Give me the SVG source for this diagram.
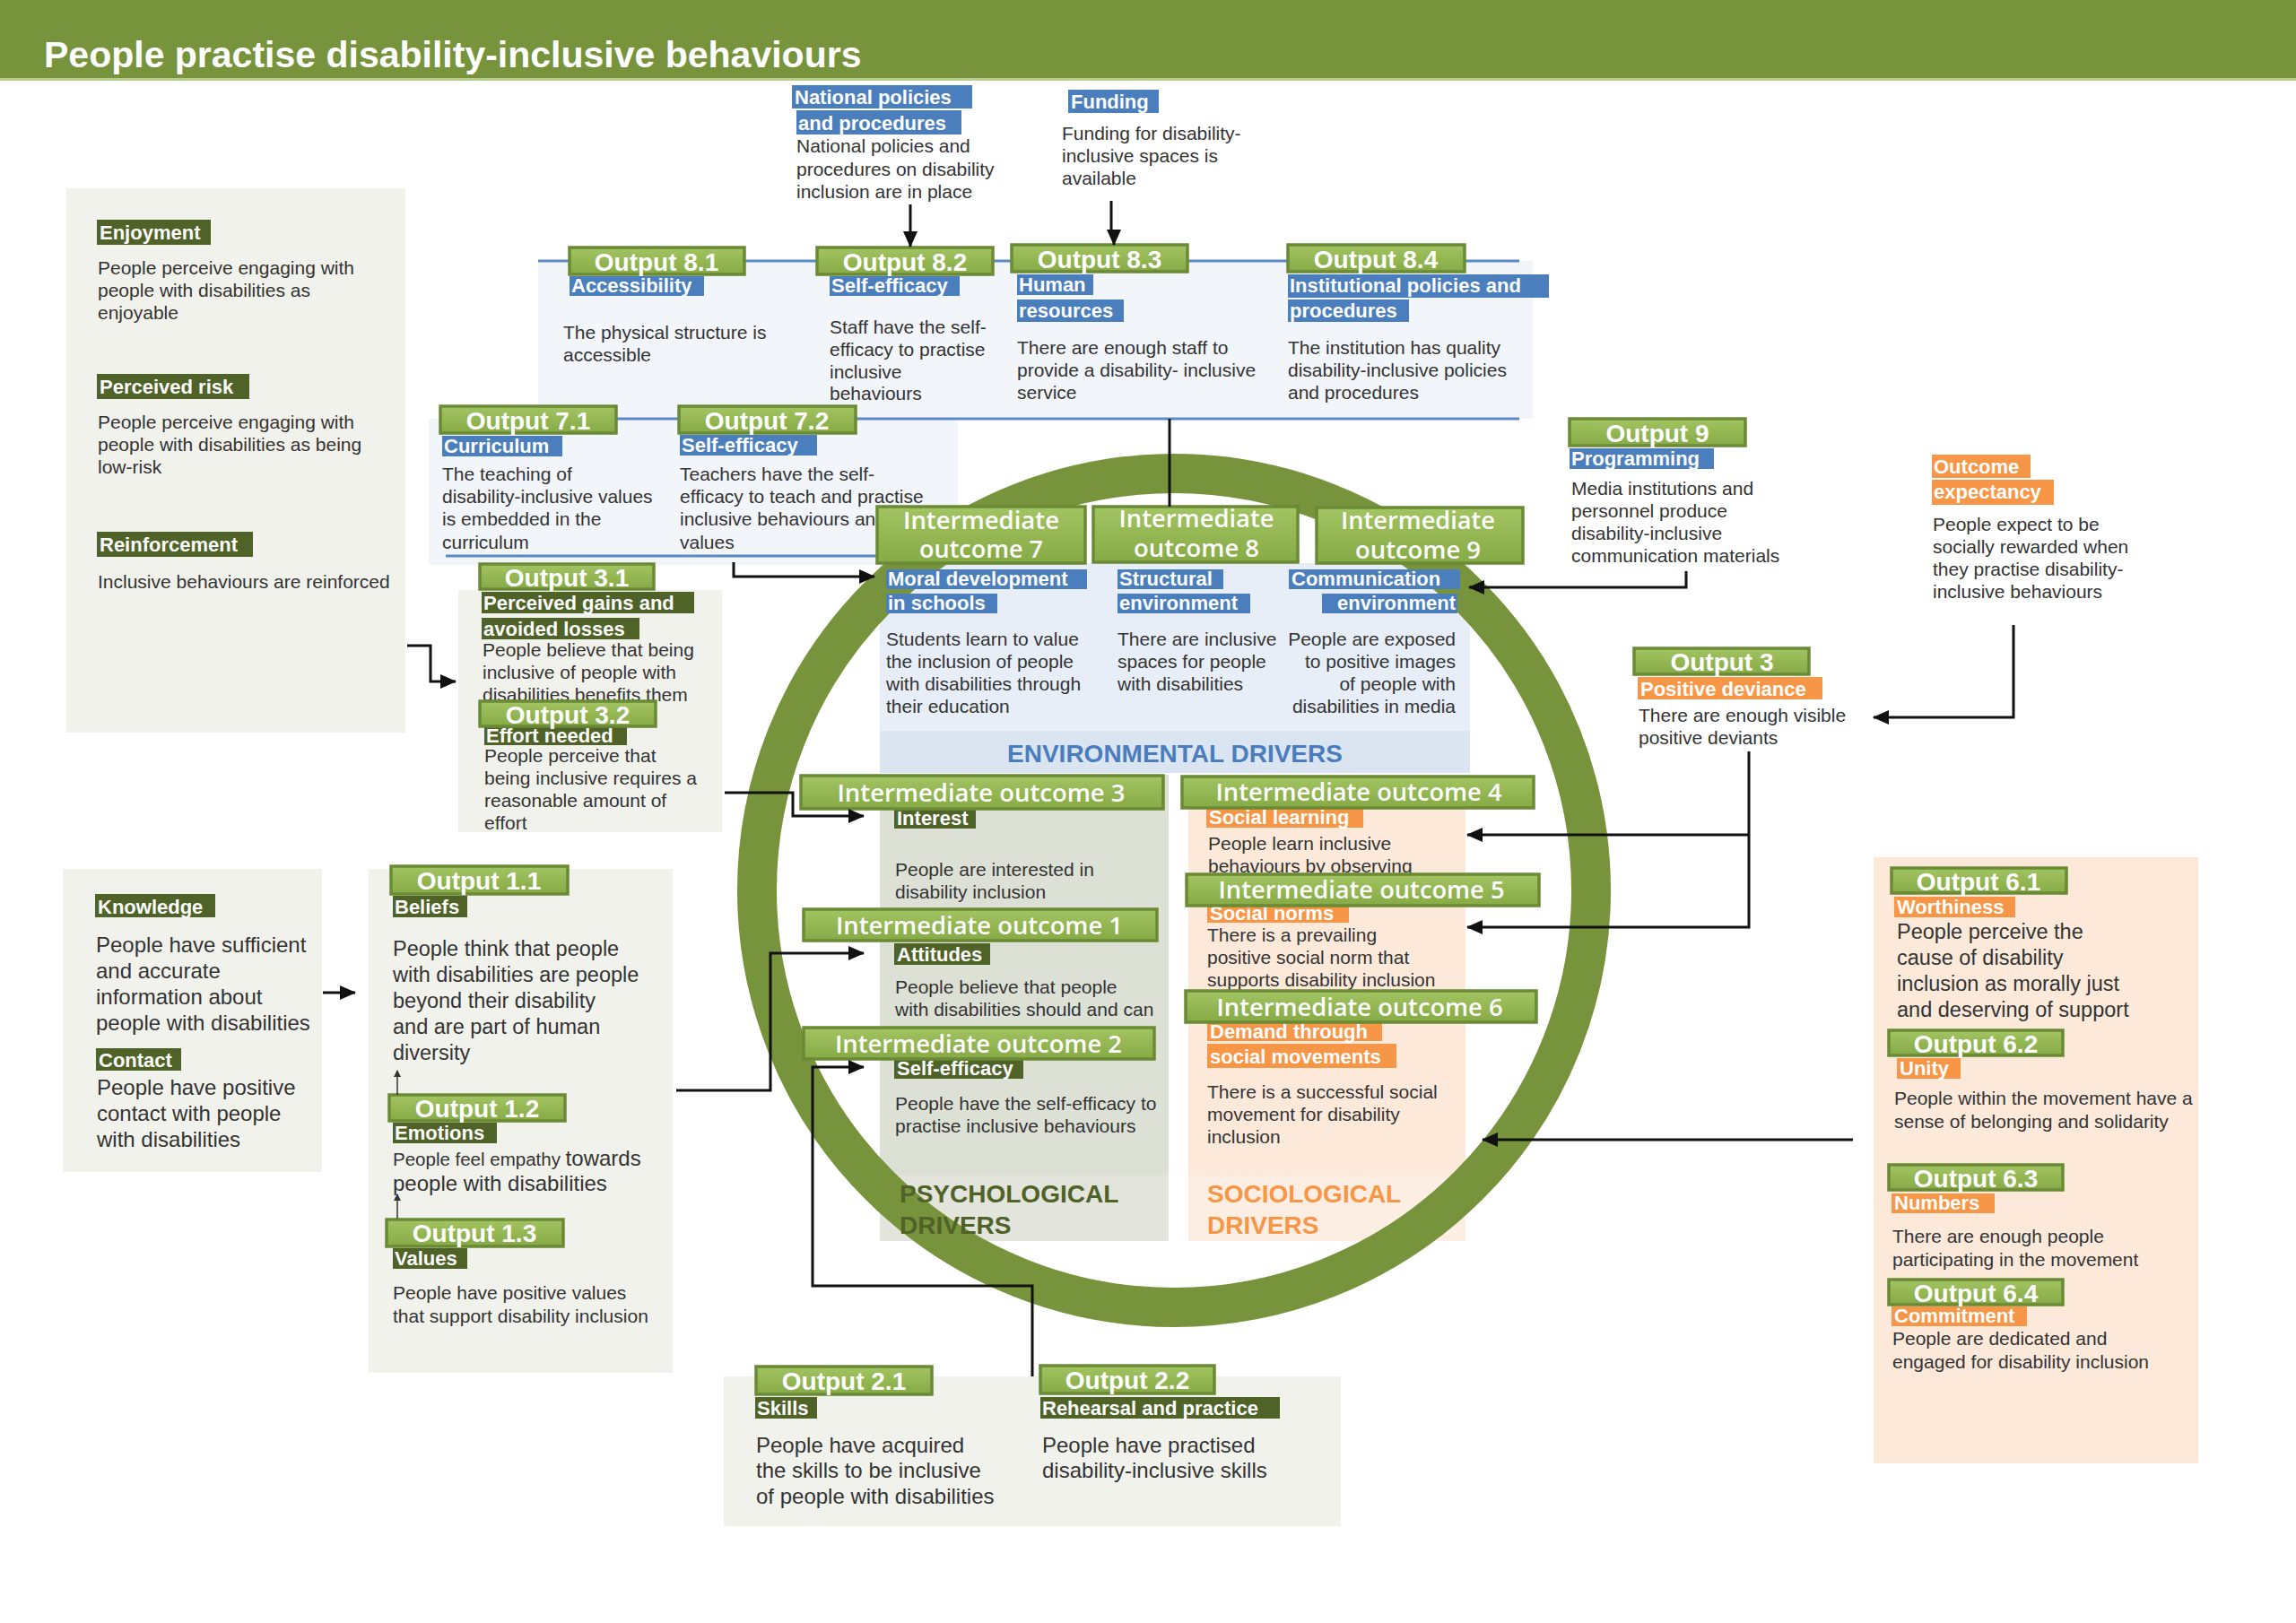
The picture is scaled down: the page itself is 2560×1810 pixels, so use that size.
<svg xmlns="http://www.w3.org/2000/svg" width="2560" height="1810" viewBox="0 0 2560 1810">
<defs>
<linearGradient id="gbox" x1="0" y1="0" x2="0" y2="1">
<stop offset="0" stop-color="#a2c462"/>
<stop offset="1" stop-color="#86aa46"/>
</linearGradient>
<marker id="ah" markerUnits="userSpaceOnUse" markerWidth="18" markerHeight="16" refX="17" refY="8" orient="auto">
<path d="M0,0 L18,8 L0,16 z" fill="#111"/>
</marker>
<marker id="ahs" markerUnits="userSpaceOnUse" markerWidth="8" markerHeight="8" refX="7" refY="4" orient="auto">
<path d="M0,0 L8,4 L0,8 z" fill="#333"/>
</marker>
<style>
.b{font-family:"Liberation Sans",Arial,sans-serif;fill:#333;font-size:21px}
.b24{font-size:24px}
.b23{font-size:23.5px}
.lab{font-family:"Liberation Sans",Arial,sans-serif;font-weight:bold;fill:#fff;font-size:22px}
.lg{fill:#4f6228}
.lb{fill:#4a7ebd}
.lo{fill:#f79646}
.ob{fill:url(#gbox);stroke:#6a8a35;stroke-width:3.5}
.ot{font-family:"Liberation Sans",Arial,sans-serif;font-weight:bold;fill:#fff;font-size:28px;text-anchor:middle}
.iot{font-family:"Open Sans","Noto Sans",sans-serif;font-weight:600;fill:#fff;font-size:27px;text-anchor:middle}
.pg{fill:#f2f2ec}
.pb{fill:#f2f5fa}
.bl{stroke:#5b8ac6;stroke-width:3;fill:none}
.con{stroke:#111;stroke-width:3;fill:none;marker-end:url(#ah)}
.sc{stroke:#333;stroke-width:1.5;fill:none;marker-end:url(#ahs)}
.drv{font-family:"Liberation Sans",Arial,sans-serif;font-weight:bold;font-size:28px}
</style>
</defs>
<rect width="2560" height="1810" fill="#fff"/>

<!-- title -->
<g id="title">
<rect x="0" y="0" width="2560" height="87" fill="#77933c"/>
<rect x="0" y="87" width="2560" height="3" fill="#b8cc8e"/>
<text x="49" y="75" font-family="Liberation Sans, Arial, sans-serif" font-weight="bold" font-size="41" fill="#fff">People practise disability-inclusive behaviours</text>
</g>

<!-- panels -->
<g id="panels">
<rect class="pg" x="74" y="210" width="378" height="607"/>
<rect class="pb" x="600" y="291" width="1109" height="176"/>
<rect class="pb" x="478" y="467" width="590" height="163"/>
<rect class="pg" x="511" y="658" width="294" height="270"/>
<rect class="pg" x="70" y="969" width="289" height="338"/>
<rect class="pg" x="411" y="969" width="339" height="562"/>
<rect class="pg" x="807" y="1535" width="688" height="167"/>
<rect fill="#fce9da" x="2089" y="956" width="362" height="676"/>
<rect fill="#e7eef7" x="981" y="628" width="658" height="187"/>
<rect fill="#dbe5f1" x="981" y="815" width="658" height="47"/>
<rect fill="#dde0d5" x="981" y="864" width="322" height="447"/>
<rect fill="#e3e4dc" x="981" y="1311" width="322" height="73"/>
<rect fill="#fde9d9" x="1325" y="864" width="309" height="447"/>
<rect fill="#fdeee4" x="1325" y="1311" width="309" height="73"/>
<line class="bl" x1="600" y1="291" x2="1694" y2="291"/>
<line class="bl" x1="497" y1="467" x2="1694" y2="467"/>
<line class="bl" x1="497" y1="620" x2="980" y2="620"/>
</g>

<!-- ring -->
<g id="ring">
<circle cx="1309" cy="993" r="465" fill="none" stroke="#77933c" stroke-width="44"/>
</g>

<!-- driver titles -->
<g id="driver-titles">
<text class="drv" x="1310" y="850" text-anchor="middle" fill="#4a7dbd">ENVIRONMENTAL DRIVERS</text>
<text class="drv" x="1003" y="1341" fill="#4f6228">PSYCHOLOGICAL</text>
<text class="drv" x="1003" y="1376" fill="#4f6228">DRIVERS</text>
<text class="drv" x="1346" y="1341" fill="#f79646">SOCIOLOGICAL</text>
<text class="drv" x="1346" y="1376" fill="#f79646">DRIVERS</text>
</g>

<!-- left drivers panel -->
<g id="enjoyment">
<rect class="lg" x="108" y="245" width="127" height="28"/>
<text class="lab" x="111" y="267">Enjoyment</text>
<text class="b" x="109" y="306">People perceive engaging with</text>
<text class="b" x="109" y="331">people with disabilities as</text>
<text class="b" x="109" y="356">enjoyable</text>
</g>
<g id="perceived-risk">
<rect class="lg" x="108" y="417" width="170" height="28"/>
<text class="lab" x="111" y="439">Perceived risk</text>
<text class="b" x="109" y="478">People perceive engaging with</text>
<text class="b" x="109" y="503">people with disabilities as being</text>
<text class="b" x="109" y="528">low-risk</text>
</g>
<g id="reinforcement">
<rect class="lg" x="108" y="593" width="174" height="28"/>
<text class="lab" x="111" y="615">Reinforcement</text>
<text class="b" x="109" y="656">Inclusive behaviours are reinforced</text>
</g>

<!-- top inputs -->
<g id="national-policies">
<rect class="lb" x="883" y="95" width="201" height="26"/>
<text class="lab" x="886" y="116">National policies</text>
<rect class="lb" x="888" y="123" width="184" height="27"/>
<text class="lab" x="890" y="145">and procedures</text>
<text class="b" x="888" y="170">National policies and</text>
<text class="b" x="888" y="196">procedures on disability</text>
<text class="b" x="888" y="221">inclusion are in place</text>
</g>
<g id="funding">
<rect class="lb" x="1191" y="100" width="101" height="26"/>
<text class="lab" x="1194" y="121">Funding</text>
<text class="b" x="1184" y="156">Funding for disability-</text>
<text class="b" x="1184" y="181">inclusive spaces is</text>
<text class="b" x="1184" y="206">available</text>
</g>

<!-- outputs 8 -->
<g id="output-8-1">
<rect class="ob" x="635" y="276" width="195" height="30"/>
<text class="ot" x="732" y="302">Output 8.1</text>
<rect class="lb" x="635" y="308" width="150" height="22"/>
<text class="lab" x="637" y="326">Accessibility</text>
<text class="b" x="628" y="378">The physical structure is</text>
<text class="b" x="628" y="403">accessible</text>
</g>
<g id="output-8-2">
<rect class="ob" x="911" y="276" width="196" height="30"/>
<text class="ot" x="1009" y="302">Output 8.2</text>
<rect class="lb" x="925" y="308" width="145" height="22"/>
<text class="lab" x="927" y="326">Self-efficacy</text>
<text class="b" x="925" y="372">Staff have the self-</text>
<text class="b" x="925" y="397">efficacy to practise</text>
<text class="b" x="925" y="422">inclusive</text>
<text class="b" x="925" y="446">behaviours</text>
</g>
<g id="output-8-3">
<rect class="ob" x="1128" y="273" width="196" height="30"/>
<text class="ot" x="1226" y="299">Output 8.3</text>
<rect class="lb" x="1134" y="306" width="85" height="23"/>
<text class="lab" x="1136" y="325">Human</text>
<rect class="lb" x="1134" y="334" width="119" height="25"/>
<text class="lab" x="1136" y="354">resources</text>
<text class="b" x="1134" y="395">There are enough staff to</text>
<text class="b" x="1134" y="420">provide a disability- inclusive</text>
<text class="b" x="1134" y="445">service</text>
</g>
<g id="output-8-4">
<rect class="ob" x="1436" y="273" width="197" height="30"/>
<text class="ot" x="1534" y="299">Output 8.4</text>
<rect class="lb" x="1436" y="306" width="291" height="26"/>
<text class="lab" x="1438" y="326">Institutional policies and</text>
<rect class="lb" x="1436" y="334" width="135" height="25"/>
<text class="lab" x="1438" y="354">procedures</text>
<text class="b" x="1436" y="395">The institution has quality</text>
<text class="b" x="1436" y="420">disability-inclusive policies</text>
<text class="b" x="1436" y="445">and procedures</text>
</g>

<!-- outputs 7 -->
<g id="output-7-1">
<rect class="ob" x="491" y="453" width="196" height="30"/>
<text class="ot" x="589" y="479">Output 7.1</text>
<rect class="lb" x="493" y="486" width="134" height="23"/>
<text class="lab" x="495" y="505">Curriculum</text>
<text class="b" x="493" y="536">The teaching of</text>
<text class="b" x="493" y="561">disability-inclusive values</text>
<text class="b" x="493" y="586">is embedded in the</text>
<text class="b" x="493" y="612">curriculum</text>
</g>
<g id="output-7-2">
<rect class="ob" x="757" y="453" width="197" height="30"/>
<text class="ot" x="855" y="479">Output 7.2</text>
<rect class="lb" x="758" y="485" width="153" height="23"/>
<text class="lab" x="760" y="504">Self-efficacy</text>
<text class="b" x="758" y="536">Teachers have the self-</text>
<text class="b" x="758" y="561">efficacy to teach and practise</text>
<text class="b" x="758" y="586">inclusive behaviours and</text>
<text class="b" x="758" y="612">values</text>
</g>

<!-- outputs 3.x -->
<g id="output-3-1">
<rect class="ob" x="535" y="629" width="194" height="28"/>
<text class="ot" x="632" y="654">Output 3.1</text>
<rect class="lg" x="537" y="660" width="237" height="24"/>
<text class="lab" x="539" y="680">Perceived gains and</text>
<rect class="lg" x="537" y="689" width="176" height="24"/>
<text class="lab" x="539" y="709">avoided losses</text>
<text class="b" x="538" y="732">People believe that being</text>
<text class="b" x="538" y="757">inclusive of people with</text>
<text class="b" x="538" y="782">disabilities benefits them</text>
</g>
<g id="output-3-2">
<rect class="lg" x="540" y="810" width="159" height="21"/>
<text class="lab" x="542" y="828">Effort needed</text>
<rect class="ob" x="535" y="782" width="196" height="28"/>
<text class="ot" x="633" y="807">Output 3.2</text>
<text class="b" x="540" y="850">People perceive that</text>
<text class="b" x="540" y="875">being inclusive requires a</text>
<text class="b" x="540" y="900">reasonable amount of</text>
<text class="b" x="540" y="925">effort</text>
</g>

<!-- intermediate outcomes: environmental -->
<g id="io-7">
<rect class="lb" x="988" y="635" width="224" height="22"/>
<text class="lab" x="990" y="653">Moral development</text>
<rect class="lb" x="988" y="662" width="124" height="22"/>
<text class="lab" x="990" y="680">in schools</text>
<text class="b" x="988" y="720">Students learn to value</text>
<text class="b" x="988" y="745">the inclusion of people</text>
<text class="b" x="988" y="770">with disabilities through</text>
<text class="b" x="988" y="795">their education</text>
<rect class="ob" x="978" y="565" width="232" height="63"/>
<text class="iot" x="1094" y="590" textLength="174" lengthAdjust="spacingAndGlyphs">Intermediate</text>
<text class="iot" x="1094" y="622" textLength="138" lengthAdjust="spacingAndGlyphs">outcome 7</text>
</g>
<g id="io-8">
<rect class="lb" x="1246" y="635" width="118" height="22"/>
<text class="lab" x="1248" y="653">Structural</text>
<rect class="lb" x="1246" y="662" width="148" height="22"/>
<text class="lab" x="1248" y="680">environment</text>
<text class="b" x="1246" y="720">There are inclusive</text>
<text class="b" x="1246" y="745">spaces for people</text>
<text class="b" x="1246" y="770">with disabilities</text>
<rect class="ob" x="1219" y="565" width="228" height="62"/>
<text class="iot" x="1334" y="588" textLength="173" lengthAdjust="spacingAndGlyphs">Intermediate</text>
<text class="iot" x="1334" y="621" textLength="140" lengthAdjust="spacingAndGlyphs">outcome 8</text>
</g>
<g id="io-9">
<rect class="lb" x="1437" y="635" width="191" height="22"/>
<text class="lab" x="1440" y="653">Communication</text>
<rect class="lb" x="1474" y="662" width="151" height="22"/>
<text class="lab" x="1623" y="680" text-anchor="end">environment</text>
<text class="b" x="1623" y="720" text-anchor="end">People are exposed</text>
<text class="b" x="1623" y="745" text-anchor="end">to positive images</text>
<text class="b" x="1623" y="770" text-anchor="end">of people with</text>
<text class="b" x="1623" y="795" text-anchor="end">disabilities in media</text>
<rect class="ob" x="1468" y="566" width="230" height="62"/>
<text class="iot" x="1581" y="590" textLength="172" lengthAdjust="spacingAndGlyphs">Intermediate</text>
<text class="iot" x="1581" y="623" textLength="140" lengthAdjust="spacingAndGlyphs">outcome 9</text>
</g>

<!-- intermediate outcomes: psychological -->
<g id="io-3">
<rect class="lg" x="997" y="898" width="91" height="26"/>
<text class="lab" x="1000" y="920">Interest</text>
<text class="b" x="998" y="977">People are interested in</text>
<text class="b" x="998" y="1002">disability inclusion</text>
<rect class="ob" x="893" y="865" width="404" height="37"/>
<text class="iot" x="1094" y="894" textLength="321" lengthAdjust="spacingAndGlyphs">Intermediate outcome 3</text>
</g>
<g id="io-1">
<rect class="lg" x="997" y="1052" width="107" height="24"/>
<text class="lab" x="1000" y="1072">Attitudes</text>
<text class="b" x="998" y="1108">People believe that people</text>
<text class="b" x="998" y="1133">with disabilities should and can</text>
<rect class="ob" x="896" y="1014" width="394" height="35"/>
<text class="iot" x="1092" y="1042" textLength="320" lengthAdjust="spacingAndGlyphs">Intermediate outcome 1</text>
</g>
<g id="io-2">
<rect class="lg" x="997" y="1176" width="144" height="27"/>
<text class="lab" x="1000" y="1199">Self-efficacy</text>
<text class="b" x="998" y="1238">People have the self-efficacy to</text>
<text class="b" x="998" y="1263">practise inclusive behaviours</text>
<rect class="ob" x="896" y="1146" width="391" height="35"/>
<text class="iot" x="1091" y="1174" textLength="320" lengthAdjust="spacingAndGlyphs">Intermediate outcome 2</text>
</g>

<!-- intermediate outcomes: sociological -->
<g id="io-4">
<rect class="lo" x="1345" y="897" width="175" height="26"/>
<text class="lab" x="1348" y="919">Social learning</text>
<text class="b" x="1347" y="948">People learn inclusive</text>
<text class="b" x="1347" y="973">behaviours by observing</text>
<rect class="ob" x="1318" y="866" width="392" height="35"/>
<text class="iot" x="1515" y="893" textLength="319" lengthAdjust="spacingAndGlyphs">Intermediate outcome 4</text>
</g>
<g id="io-5">
<rect class="lo" x="1346" y="1004" width="158" height="25"/>
<text class="lab" x="1349" y="1026">Social norms</text>
<text class="b" x="1346" y="1050">There is a prevailing</text>
<text class="b" x="1346" y="1075">positive social norm that</text>
<text class="b" x="1346" y="1100">supports disability inclusion</text>
<rect class="ob" x="1323" y="975" width="393" height="35"/>
<text class="iot" x="1518" y="1002" textLength="319" lengthAdjust="spacingAndGlyphs">Intermediate outcome 5</text>
</g>
<g id="io-6">
<rect class="lo" x="1346" y="1136" width="195" height="25"/>
<text class="lab" x="1349" y="1158">Demand through</text>
<rect class="lo" x="1346" y="1164" width="211" height="27"/>
<text class="lab" x="1349" y="1186">social movements</text>
<text class="b" x="1346" y="1225">There is a successful social</text>
<text class="b" x="1346" y="1250">movement for disability</text>
<text class="b" x="1346" y="1275">inclusion</text>
<rect class="ob" x="1322" y="1105" width="391" height="35"/>
<text class="iot" x="1516" y="1133" textLength="319" lengthAdjust="spacingAndGlyphs">Intermediate outcome 6</text>
</g>

<!-- right side -->
<g id="output-9">
<rect class="ob" x="1750" y="467" width="196" height="30"/>
<text class="ot" x="1848" y="493">Output 9</text>
<rect class="lb" x="1750" y="500" width="161" height="23"/>
<text class="lab" x="1752" y="519">Programming</text>
<text class="b" x="1752" y="552">Media institutions and</text>
<text class="b" x="1752" y="577">personnel produce</text>
<text class="b" x="1752" y="602">disability-inclusive</text>
<text class="b" x="1752" y="627">communication materials</text>
</g>
<g id="outcome-expectancy">
<rect class="lo" x="2154" y="507" width="110" height="26"/>
<text class="lab" x="2156" y="528">Outcome</text>
<rect class="lo" x="2154" y="535" width="136" height="28"/>
<text class="lab" x="2156" y="556">expectancy</text>
<text class="b" x="2155" y="592">People expect to be</text>
<text class="b" x="2155" y="617">socially rewarded when</text>
<text class="b" x="2155" y="642">they practise disability-</text>
<text class="b" x="2155" y="667">inclusive behaviours</text>
</g>
<g id="output-3">
<rect class="ob" x="1822" y="723" width="195" height="29"/>
<text class="ot" x="1920" y="748">Output 3</text>
<rect class="lo" x="1826" y="755" width="206" height="25"/>
<text class="lab" x="1829" y="776">Positive deviance</text>
<text class="b" x="1827" y="805">There are enough visible</text>
<text class="b" x="1827" y="830">positive deviants</text>
</g>

<!-- outputs 6.x -->
<g id="output-6-1">
<rect class="ob" x="2109" y="968" width="195" height="28"/>
<text class="ot" x="2206" y="993">Output 6.1</text>
<rect class="lo" x="2112" y="1000" width="135" height="23"/>
<text class="lab" x="2115" y="1019">Worthiness</text>
<text class="b b23" x="2115" y="1047">People perceive the</text>
<text class="b b23" x="2115" y="1076">cause of disability</text>
<text class="b b23" x="2115" y="1105">inclusion as morally just</text>
<text class="b b23" x="2115" y="1134">and deserving of support</text>
</g>
<g id="output-6-2">
<rect class="ob" x="2106" y="1149" width="194" height="28"/>
<text class="ot" x="2203" y="1174">Output 6.2</text>
<rect class="lo" x="2115" y="1180" width="71" height="23"/>
<text class="lab" x="2118" y="1199">Unity</text>
<text class="b" x="2112" y="1232" font-size="20.5">People within the movement have a</text>
<text class="b" x="2112" y="1258" font-size="20.5">sense of belonging and solidarity</text>
</g>
<g id="output-6-3">
<rect class="ob" x="2106" y="1299" width="194" height="28"/>
<text class="ot" x="2203" y="1324">Output 6.3</text>
<rect class="lo" x="2109" y="1331" width="115" height="22"/>
<text class="lab" x="2112" y="1349">Numbers</text>
<text class="b" x="2110" y="1386">There are enough people</text>
<text class="b" x="2110" y="1412">participating in the movement</text>
</g>
<g id="output-6-4">
<rect class="ob" x="2106" y="1427" width="194" height="28"/>
<text class="ot" x="2203" y="1452">Output 6.4</text>
<rect class="lo" x="2109" y="1457" width="151" height="22"/>
<text class="lab" x="2112" y="1475">Commitment</text>
<text class="b" x="2110" y="1500">People are dedicated and</text>
<text class="b" x="2110" y="1526">engaged for disability inclusion</text>
</g>

<!-- knowledge / contact -->
<g id="knowledge">
<rect class="lg" x="106" y="997" width="134" height="26"/>
<text class="lab" x="109" y="1019" font-size="23">Knowledge</text>
<text class="b b24" x="107" y="1062">People have sufficient</text>
<text class="b b24" x="107" y="1091">and accurate</text>
<text class="b b24" x="107" y="1120">information about</text>
<text class="b b24" x="107" y="1149">people with disabilities</text>
</g>
<g id="contact">
<rect class="lg" x="107" y="1169" width="95" height="25"/>
<text class="lab" x="110" y="1190" font-size="23">Contact</text>
<text class="b b24" x="108" y="1221">People have positive</text>
<text class="b b24" x="108" y="1250">contact with people</text>
<text class="b b24" x="108" y="1279">with disabilities</text>
</g>

<!-- outputs 1.x -->
<g id="output-1-1">
<rect class="ob" x="436" y="966" width="197" height="31"/>
<text class="ot" x="534" y="992">Output 1.1</text>
<rect class="lg" x="438" y="999" width="83" height="24"/>
<text class="lab" x="440" y="1019" font-size="23">Beliefs</text>
<text class="b b23" x="438" y="1066">People think that people</text>
<text class="b b23" x="438" y="1095">with disabilities are people</text>
<text class="b b23" x="438" y="1124">beyond their disability</text>
<text class="b b23" x="438" y="1153">and are part of human</text>
<text class="b b23" x="438" y="1182">diversity</text>
</g>
<g id="output-1-2">
<rect class="ob" x="434" y="1221" width="196" height="29"/>
<text class="ot" x="532" y="1246">Output 1.2</text>
<rect class="lg" x="438" y="1252" width="116" height="23"/>
<text class="lab" x="440" y="1271">Emotions</text>
<text class="b" x="438" y="1300"><tspan font-size="20.5">People feel empathy </tspan><tspan font-size="24">towards</tspan></text>
<text class="b b24" x="438" y="1328">people with disabilities</text>
</g>
<g id="output-1-3">
<rect class="ob" x="431" y="1360" width="197" height="30"/>
<text class="ot" x="529" y="1385">Output 1.3</text>
<rect class="lg" x="438" y="1392" width="83" height="23"/>
<text class="lab" x="440" y="1411">Values</text>
<text class="b" x="438" y="1449">People have positive values</text>
<text class="b" x="438" y="1475">that support disability inclusion</text>
</g>

<!-- outputs 2.x -->
<g id="output-2-1">
<rect class="ob" x="843" y="1524" width="196" height="31"/>
<text class="ot" x="941" y="1550">Output 2.1</text>
<rect class="lg" x="842" y="1558" width="69" height="24"/>
<text class="lab" x="844" y="1578" font-size="23">Skills</text>
<text class="b b24" x="843" y="1620">People have acquired</text>
<text class="b b24" x="843" y="1648">the skills to be inclusive</text>
<text class="b b24" x="843" y="1677">of people with disabilities</text>
</g>
<g id="output-2-2">
<rect class="ob" x="1160" y="1523" width="194" height="31"/>
<text class="ot" x="1257" y="1549">Output 2.2</text>
<rect class="lg" x="1160" y="1558" width="267" height="24"/>
<text class="lab" x="1162" y="1578" font-size="23">Rehearsal and practice</text>
<text class="b b24" x="1162" y="1620">People have practised</text>
<text class="b b24" x="1162" y="1648">disability-inclusive skills</text>
</g>

<!-- connectors -->
<g id="connectors">
<path class="con" d="M1015,228 L1015,275"/>
<path class="con" d="M1239,224 L1239,256 L1242,262 L1242,273"/>
<path class="con" d="M818,627 L818,643 L975,643"/>
<path class="con" d="M454,720 L480,720 L480,760 L508,760"/>
<path class="con" d="M808,884 L884,884 L884,910 L963,910"/>
<path class="con" d="M754,1216 L859,1216 L859,1063 L963,1063"/>
<path class="con" d="M1151,1535 L1151,1434 L906,1434 L906,1190 L963,1190"/>
<path class="con" d="M360,1107 L396,1107"/>
<path class="sc" d="M443,1221 L443,1194"/>
<path class="sc" d="M443,1359 L443,1332"/>
<path d="M1304,467 L1304,565" stroke="#111" stroke-width="3" fill="none"/>
<path class="con" d="M1880,637 L1880,655 L1638,655"/>
<path class="con" d="M2245,697 L2245,800 L2089,800"/>
<path class="con" d="M1950,838 L1950,1034 L1636,1034"/>
<path class="con" d="M1950,931 L1636,931"/>
<path class="con" d="M2066,1271 L1653,1271"/>
</g>
</svg>
